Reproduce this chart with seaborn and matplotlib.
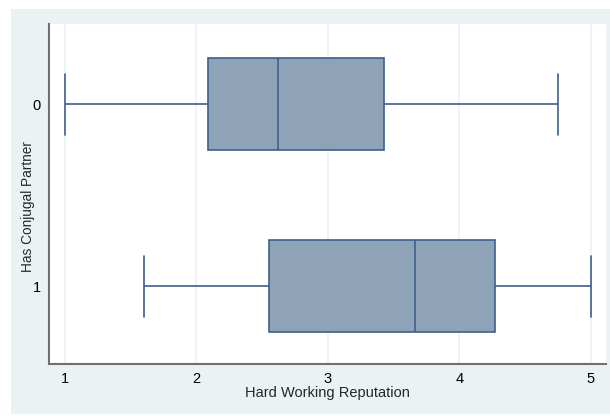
import matplotlib
matplotlib.use("Agg")
import matplotlib.pyplot as plt
from matplotlib.patches import Rectangle
import pandas as pd
import seaborn as sns

# Five-number summaries (min, Q1, median, Q3, max) per group
categories = ["0", "1"]
partner_0 = [1.0, 2.09, 2.62, 3.43, 4.75]
partner_1 = [1.6, 2.55, 3.66, 4.27, 5.0]
x_ticks = [1, 2, 3, 4, 5]

df = pd.DataFrame({
    "Hard Working Reputation": partner_0 + partner_1,
    "Has Conjugal Partner": [categories[0]] * len(partner_0) + [categories[1]] * len(partner_1),
})

sns.set_style("white")
plt.rcParams["font.family"] = ["Liberation Sans", "DejaVu Sans"]

BG = "#eaf2f3"
FILL = "#8ea3b8"
EDGE = "#3e6088"

fig = plt.figure(figsize=(6.10, 4.16), dpi=100, facecolor="white")
fig.patches.append(Rectangle((11 / 610, 2 / 416), 1 - 11 / 610, 405 / 416,
                             transform=fig.transFigure, facecolor=BG,
                             edgecolor="none", zorder=-10))
ax = fig.add_axes([49 / 610, (416 - 364) / 416, (606 - 49) / 610, (364 - 24) / 416])
ax.set_facecolor("white")

sns.boxplot(data=df, x="Hard Working Reputation", y="Has Conjugal Partner",
            order=categories, orient="h", whis=(0, 100), width=0.503,
            color=FILL, saturation=1, linecolor=EDGE, linewidth=1.2,
            capwidths=0.335, ax=ax, zorder=3)

ax.set_xlim(0.881, 5.116)
ax.set_ylim(1.427, -0.44)
ax.set_xticks(x_ticks)
ax.set_xticklabels([str(t) for t in x_ticks])
ax.grid(axis="x", color=BG, linewidth=1.2, zorder=0)
ax.set_axisbelow(True)

for side in ("top", "right"):
    ax.spines[side].set_visible(False)
for side in ("left", "bottom"):
    ax.spines[side].set_color("#707070")
    ax.spines[side].set_linewidth(1.5)

ax.tick_params(axis="x", which="major", direction="out", length=4,
               width=1, color="#707070", labelsize=10.5, labelcolor="black", pad=2)
ax.tick_params(axis="y", which="major", length=0, labelsize=10.5,
               labelcolor="black", pad=6)
ax.set_xlabel("Hard Working Reputation", fontsize=10.5, labelpad=0)
ax.set_ylabel("Has Conjugal Partner", fontsize=9.8)
ax.yaxis.set_label_coords(-0.025, 0.462)

fig.savefig("out.png", dpi=100, facecolor="white")
